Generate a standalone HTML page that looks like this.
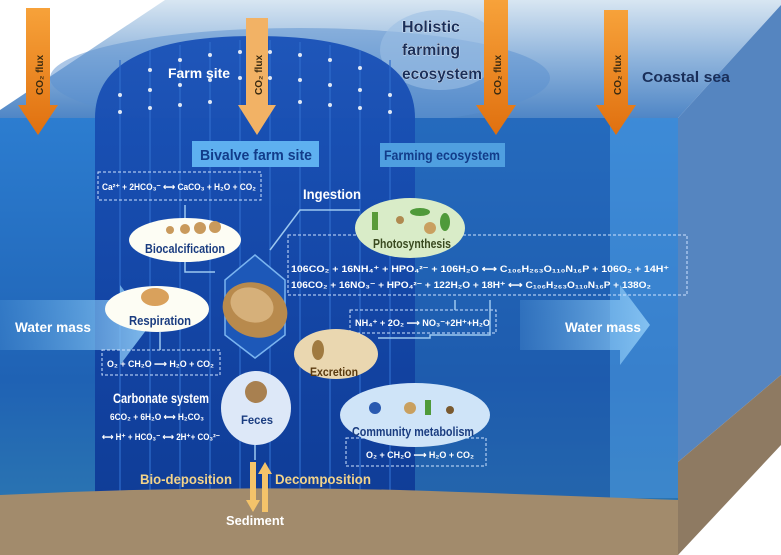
<!DOCTYPE html>
<html><head><meta charset="utf-8"><style>
body{margin:0;background:#fff}
svg{display:block}
text{font-family:"Liberation Sans",sans-serif;font-weight:bold}
</style></head><body>
<svg width="781" height="555" viewBox="0 0 781 555" xmlns="http://www.w3.org/2000/svg">
<defs>
<linearGradient id="sky" x1="0" y1="0" x2="0" y2="1"><stop offset="0" stop-color="#d8e6f2"/><stop offset="0.5" stop-color="#8fb4dc"/><stop offset="1" stop-color="#4f86c6"/></linearGradient>
<linearGradient id="front" x1="0" y1="0" x2="0" y2="1"><stop offset="0" stop-color="#2c7dd0"/><stop offset="0.6" stop-color="#1f62b4"/><stop offset="1" stop-color="#2f7cb0"/></linearGradient>
<linearGradient id="farm" x1="0" y1="0" x2="0" y2="1"><stop offset="0" stop-color="#1a52b8"/><stop offset="1" stop-color="#0e3a96"/></linearGradient>
<linearGradient id="orange" x1="0" y1="0" x2="0" y2="1"><stop offset="0" stop-color="#f7a23a"/><stop offset="1" stop-color="#e0700f"/></linearGradient>
<linearGradient id="wm" x1="0" y1="0" x2="1" y2="0"><stop offset="0" stop-color="#6fb4ea" stop-opacity="0.2"/><stop offset="1" stop-color="#8cc8f5" stop-opacity="0.9"/></linearGradient>
</defs>
<polygon points="0,118 0,110 165,0 781,0 781,5 678,118" fill="url(#sky)"/>
<ellipse cx="300" cy="78" rx="250" ry="50" fill="#5a8fd0" opacity="0.5"/>
<ellipse cx="440" cy="50" rx="60" ry="40" fill="#9cc0e4" opacity="0.6"/>
<rect x="0" y="118" width="678" height="437" fill="url(#front)"/>
<rect x="610" y="118" width="68" height="380" fill="#4a95dc" opacity="0.6"/>
<polygon points="678,118 781,5 781,375 678,462" fill="#5585c0"/>
<polygon points="678,462 781,375 781,445 678,555" fill="#8e7a62"/>
<path d="M95,118 Q95,36 255,36 Q415,36 415,118 L415,500 L95,500 Z" fill="url(#farm)" opacity="0.95"/>
<g stroke="#2f6ccc" stroke-width="2" opacity="0.6">
<line x1="120" y1="60" x2="120" y2="495"/><line x1="150" y1="50" x2="150" y2="495"/><line x1="180" y1="45" x2="180" y2="495"/><line x1="210" y1="42" x2="210" y2="495"/><line x1="240" y1="40" x2="240" y2="495"/><line x1="270" y1="40" x2="270" y2="495"/><line x1="300" y1="42" x2="300" y2="495"/><line x1="330" y1="45" x2="330" y2="495"/><line x1="360" y1="50" x2="360" y2="495"/><line x1="390" y1="60" x2="390" y2="495"/>
</g>
<g fill="#fff" opacity="0.85">
<circle cx="150" cy="70" r="2"/><circle cx="180" cy="60" r="2"/><circle cx="210" cy="55" r="2"/><circle cx="240" cy="52" r="2"/><circle cx="270" cy="52" r="2"/><circle cx="300" cy="55" r="2"/><circle cx="330" cy="60" r="2"/><circle cx="360" cy="68" r="2"/>
<circle cx="120" cy="95" r="2"/><circle cx="150" cy="90" r="2"/><circle cx="180" cy="85" r="2"/><circle cx="210" cy="80" r="2"/><circle cx="240" cy="78" r="2"/><circle cx="270" cy="78" r="2"/><circle cx="300" cy="80" r="2"/><circle cx="330" cy="85" r="2"/><circle cx="360" cy="90" r="2"/><circle cx="390" cy="95" r="2"/>
<circle cx="120" cy="112" r="2"/><circle cx="150" cy="108" r="2"/><circle cx="180" cy="105" r="2"/><circle cx="210" cy="102" r="2"/><circle cx="300" cy="102" r="2"/><circle cx="330" cy="105" r="2"/><circle cx="360" cy="108" r="2"/><circle cx="390" cy="112" r="2"/>
</g>
<rect x="415" y="118" width="195" height="380" fill="#1c55a6" opacity="0.45"/>
<path d="M0,495 Q200,485 400,490 Q550,495 678,500 L678,555 L0,555 Z" fill="#a28b6c"/>
<polygon points="0,300 120,300 120,285 150,325 120,365 120,350 0,350" fill="url(#wm)"/>
<polygon points="520,300 620,300 620,285 650,325 620,365 620,350 520,350" fill="url(#wm)"/>
<text x="15" y="332" font-size="14" fill="#fff" textLength="76" lengthAdjust="spacingAndGlyphs">Water mass</text>
<text x="565" y="332" font-size="14" fill="#fff" textLength="76" lengthAdjust="spacingAndGlyphs">Water mass</text>
<polygon points="26,8 50,8 50,105 58,105 38,135 18,105 26,105" fill="url(#orange)"/>
<polygon points="246,18 268,18 268,105 276,105 257,135 238,105 246,105" fill="#f2b265"/>
<polygon points="484,0 508,0 508,105 516,105 496,135 476,105 484,105" fill="url(#orange)"/>
<polygon points="604,10 628,10 628,105 636,105 616,135 596,105 604,105" fill="url(#orange)"/>
<g font-size="10" fill="#3a2a10">
<text transform="translate(43,95) rotate(-90)">CO₂ flux</text>
<text transform="translate(262,95) rotate(-90)">CO₂ flux</text>
<text transform="translate(501,95) rotate(-90)">CO₂ flux</text>
<text transform="translate(621,95) rotate(-90)">CO₂ flux</text>
</g>
<text x="168" y="78" font-size="14" fill="#fff" textLength="62" lengthAdjust="spacingAndGlyphs">Farm site</text>
<g font-size="16" fill="#1a2f5a" stroke="#fff" stroke-width="0.6" paint-order="stroke">
<text x="402" y="32" textLength="58" lengthAdjust="spacingAndGlyphs">Holistic</text>
<text x="402" y="55" textLength="58" lengthAdjust="spacingAndGlyphs">farming</text>
<text x="402" y="79" textLength="80" lengthAdjust="spacingAndGlyphs">ecosystem</text>
</g>
<text x="642" y="82" font-size="15" fill="#1a2f5a" textLength="88" lengthAdjust="spacingAndGlyphs">Coastal sea</text>
<rect x="192" y="141" width="127" height="26" fill="#5eb0f0"/>
<text x="200" y="160" font-size="15" fill="#123c8a" textLength="112" lengthAdjust="spacingAndGlyphs">Bivalve farm site</text>
<rect x="380" y="143" width="125" height="24" fill="#4f9fe0"/>
<text x="384" y="160" font-size="13.5" fill="#123c8a" textLength="116" lengthAdjust="spacingAndGlyphs">Farming ecosystem</text>
<g fill="none" stroke="#cfe3ff" stroke-dasharray="3,2" stroke-width="1">
<rect x="98" y="172" width="163" height="28"/>
<rect x="288" y="235" width="399" height="60"/>
<rect x="350" y="310" width="146" height="23"/>
<rect x="102" y="350" width="118" height="25"/>
<rect x="346" y="438" width="140" height="28"/>
</g>
<g font-size="9" fill="#fff">
<text x="102" y="190" textLength="154" lengthAdjust="spacingAndGlyphs">Ca²⁺ + 2HCO₃⁻ ⟷ CaCO₃ + H₂O + CO₂</text>
<text x="291" y="272" textLength="378" lengthAdjust="spacingAndGlyphs">106CO₂ + 16NH₄⁺ + HPO₄²⁻ + 106H₂O ⟷ C₁₀₆H₂₆₃O₁₁₀N₁₆P + 106O₂ + 14H⁺</text>
<text x="291" y="288" textLength="360" lengthAdjust="spacingAndGlyphs">106CO₂ + 16NO₃⁻ + HPO₄²⁻ + 122H₂O + 18H⁺ ⟷ C₁₀₆H₂₆₃O₁₁₀N₁₆P + 138O₂</text>
<text x="355" y="326" textLength="135" lengthAdjust="spacingAndGlyphs">NH₄⁺ + 2O₂ ⟶ NO₃⁻+2H⁺+H₂O</text>
<text x="107" y="367" textLength="107" lengthAdjust="spacingAndGlyphs">O₂ + CH₂O ⟶ H₂O + CO₂</text>
<text x="366" y="458" textLength="108" lengthAdjust="spacingAndGlyphs">O₂ + CH₂O ⟶ H₂O + CO₂</text>
<text x="110" y="420" textLength="94" lengthAdjust="spacingAndGlyphs">6CO₂ + 6H₂O ⟷ H₂CO₃</text>
<text x="102" y="440" textLength="118" lengthAdjust="spacingAndGlyphs">⟷ H⁺ + HCO₃⁻ ⟷ 2H⁺+ CO₃²⁻</text>
</g>
<text x="113" y="403" font-size="14" fill="#fff" textLength="96" lengthAdjust="spacingAndGlyphs">Carbonate system</text>
<text x="303" y="199" font-size="14" fill="#fff" textLength="58" lengthAdjust="spacingAndGlyphs">Ingestion</text>
<g stroke="#9cc8f0" stroke-width="1.5" fill="none">
<path d="M185,218 L185,205"/><path d="M160,332 L160,350"/><path d="M255,445 L255,460"/>
<path d="M360,210 L300,210 L270,250"/><path d="M185,262 L185,272 L215,272"/>
<path d="M455,310 L455,300"/><path d="M378,338 L430,338 L430,335 L490,335 L490,300"/>
</g>
<polygon points="255,255 285,280 285,335 255,358 225,335 225,280" fill="#1d58b8" stroke="#7ab4f0" stroke-width="1.5"/>
<ellipse cx="255" cy="310" rx="33" ry="27" fill="#b88a4d" transform="rotate(20 255 310)"/>
<ellipse cx="252" cy="305" rx="22" ry="17" fill="#d6b07a" transform="rotate(20 252 305)"/>
<ellipse cx="185" cy="240" rx="56" ry="22" fill="#fdfdf4"/>
<circle cx="170" cy="230" r="4" fill="#c99a5c"/><circle cx="185" cy="229" r="5" fill="#c99a5c"/><circle cx="200" cy="228" r="6" fill="#c99a5c"/><circle cx="215" cy="227" r="6" fill="#c99a5c"/>
<text x="145" y="253" font-size="13" fill="#1a3c80" textLength="80" lengthAdjust="spacingAndGlyphs">Biocalcification</text>
<ellipse cx="157" cy="309" rx="52" ry="23" fill="#fdfdf4"/>
<ellipse cx="155" cy="297" rx="14" ry="9" fill="#d9a15c"/>
<text x="129" y="325" font-size="13" fill="#1a3c80" textLength="62" lengthAdjust="spacingAndGlyphs">Respiration</text>
<ellipse cx="410" cy="228" rx="55" ry="30" fill="#d9ecc8"/>
<rect x="372" y="212" width="6" height="18" fill="#5a9a3a"/><ellipse cx="420" cy="212" rx="10" ry="4" fill="#4f9a3a"/><circle cx="400" cy="220" r="4" fill="#b08a50"/><circle cx="430" cy="228" r="6" fill="#c9a060"/><ellipse cx="445" cy="222" rx="5" ry="9" fill="#4f9a3a"/>
<text x="373" y="248" font-size="13" fill="#3a4a20" textLength="78" lengthAdjust="spacingAndGlyphs">Photosynthesis</text>
<ellipse cx="336" cy="354" rx="42" ry="25" fill="#ead7b0"/>
<ellipse cx="318" cy="350" rx="6" ry="10" fill="#a07a40"/>
<text x="310" y="376" font-size="12" fill="#5a3a10" textLength="48" lengthAdjust="spacingAndGlyphs">Excretion</text>
<ellipse cx="256" cy="408" rx="35" ry="37" fill="#dde8f8"/>
<circle cx="256" cy="392" r="11" fill="#a88050"/>
<text x="241" y="424" font-size="12" fill="#1a3c80" textLength="32" lengthAdjust="spacingAndGlyphs">Feces</text>
<ellipse cx="415" cy="415" rx="75" ry="32" fill="#cfe4f8"/>
<circle cx="375" cy="408" r="6" fill="#2a5ab0"/><circle cx="410" cy="408" r="6" fill="#c9a060"/><rect x="425" y="400" width="6" height="15" fill="#4f9a3a"/><circle cx="450" cy="410" r="4" fill="#7a5a30"/>
<text x="352" y="436" font-size="12.5" fill="#1a3c80" textLength="122" lengthAdjust="spacingAndGlyphs">Community metabolism</text>
<text x="140" y="484" font-size="14" fill="#f2d38a" textLength="92" lengthAdjust="spacingAndGlyphs">Bio-deposition</text>
<text x="275" y="484" font-size="14" fill="#f2d38a" textLength="96" lengthAdjust="spacingAndGlyphs">Decomposition</text>
<polygon points="250,462 256,462 256,500 260,500 253,512 246,500 250,500" fill="#f4c36a"/>
<polygon points="262,512 268,512 268,474 272,474 265,462 258,474 262,474" fill="#f4c36a"/>
<text x="226" y="525" font-size="13" fill="#fff" font-weight="normal" textLength="58" lengthAdjust="spacingAndGlyphs">Sediment</text>
</svg>
</body></html>
